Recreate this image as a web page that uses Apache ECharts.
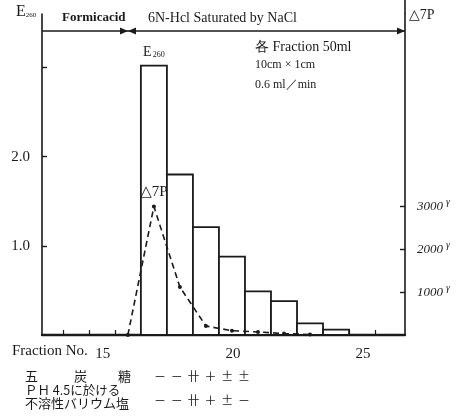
<!DOCTYPE html>
<html>
<head>
<meta charset="utf-8">
<script src="https://cdn.jsdelivr.net/npm/echarts@6/dist/echarts.min.js"></script>
<style>
  html, body { margin: 0; padding: 0; background: #fff; }
  #main { width: 460px; height: 417px; }
</style>
</head>
<body>
<div id="main"></div>
<script>
// E260 per fraction (bars span fraction n .. n+1)
const fracStart = [16, 17, 18, 19, 20, 21, 22, 23];
const e260 = [3.02, 1.80, 1.21, 0.88, 0.49, 0.38, 0.13, 0.06];
// Δ7P (γ), plotted at the middle of each fraction
const dpX = [15.5, 16.5, 17.5, 18.5, 19.5, 20.5, 21.5, 22.5];
const dp = [0, 3000, 1120, 210, 100, 70, 35, 10];
const xLabels = [15, 20, 25];
const leftTicks = [1, 2, 3];
const leftLabels = [1, 2];
const rightTicks = [1000, 2000, 3000];
// reactions below the chart
const pentose = ['－', '－', '卄', '＋', '±', '±'];
const barium = ['－', '－', '卄', '＋', '±', '－'];

const serif = '"Liberation Serif", "DejaVu Serif", serif';
const jp = '"Noto Sans CJK JP", sans-serif';
const ink = '#1a1a1a';

let chart = echarts.init(document.getElementById('main'));

function renderBar(params, api) {
    const x0 = api.value(0), v = api.value(1);
    const p0 = api.coord([x0, v]);
    const p1 = api.coord([x0 + 1, 0]);
    const rect = {
        type: 'rect',
        shape: {x: p0[0], y: p0[1], width: p1[0] - p0[0], height: p1[1] - p0[1]},
        style: {fill: '#fff', stroke: ink, lineWidth: 1.8}
    };
    if (params.dataIndex !== 0) return rect;
    // label above the tallest bar
    return {
        type: 'group',
        children: [rect, {
            type: 'text',
            x: (p0[0] + p1[0]) / 2,
            y: p0[1] - 6,
            style: {
                text: 'E{s|260}',
                align: 'center',
                verticalAlign: 'bottom',
                font: '14px ' + serif,
                fill: ink,
                rich: {s: {fontSize: 8, fontFamily: serif, padding: [4, 0, 0, 1], fill: ink}}
            }
        }]
    };
}

// arrow head pointing along dir (+1 right, -1 left)
function head(x, y, dir) {
    return {
        type: 'polygon',
        shape: {points: [[x, y], [x - dir * 8, y - 3.5], [x - dir * 8, y + 3.5]]},
        style: {fill: ink}
    };
}

function marks(list, top) {
    return list.map((m, i) => ({
        type: 'text', left: 154 + i * 16.8, top: top,
        style: {text: m, font: '12px ' + jp, fill: ink}
    }));
}

let option = {
    backgroundColor: '#fff',
    animation: false,
    grid: {left: 42, right: 55, top: 14, bottom: 82, show: false},
    xAxis: {
        type: 'value',
        min: 12.2,
        max: 26.15,
        splitLine: {show: false},
        axisLine: {lineStyle: {color: ink, width: 2.4}},
        axisTick: {inside: true, length: 5, customValues: [13, 14, 15, 16, 17, 18, 19, 20, 21, 22, 23, 24, 25],
            lineStyle: {color: ink, width: 1.2}},
        axisLabel: {
            customValues: xLabels,
            color: ink,
            fontFamily: serif,
            fontSize: 15,
            margin: 12,
            padding: [0, 24, 0, 0]
        }
    },
    yAxis: [{
        type: 'value',
        min: 0,
        max: 3.6,
        splitLine: {show: false},
        axisLine: {show: true, lineStyle: {color: ink, width: 1.6}},
        axisTick: {show: true, inside: true, length: 5, customValues: leftTicks, lineStyle: {color: ink, width: 1.4}},
        axisLabel: {
            customValues: leftLabels,
            formatter: (v) => v.toFixed(1),
            color: ink,
            fontFamily: serif,
            fontSize: 15,
            margin: 12
        }
    }, {
        type: 'value',
        min: 0,
        max: 7500,
        position: 'right',
        splitLine: {show: false},
        axisLine: {show: true, lineStyle: {color: ink, width: 1.6}},
        axisTick: {show: true, inside: true, length: 5, customValues: rightTicks, lineStyle: {color: ink, width: 1.4}},
        axisLabel: {
            customValues: rightTicks,
            formatter: (v) => v + '{g|γ}',
            color: ink,
            fontFamily: serif,
            fontSize: 13,
            fontStyle: 'italic',
            margin: 12,
            rich: {g: {fontSize: 10, fontFamily: serif, verticalAlign: 'top', padding: [0, 0, 8, 3], color: ink}}
        }
    }],
    series: [{
        name: 'E260',
        type: 'custom',
        renderItem: renderBar,
        data: fracStart.map((f, i) => [f, e260[i]]),
        z: 2
    }, {
        name: 'Δ7P',
        type: 'line',
        yAxisIndex: 1,
        data: dpX.map((x, i) => {
            const item = {value: [x, dp[i]]};
            if (i === 1) {
                item.label = {
                    show: true, position: 'top', distance: 5, formatter: '△7P',
                    color: ink, fontFamily: serif, fontSize: 15
                };
            }
            return item;
        }),
        symbol: 'circle',
        symbolSize: 4,
        itemStyle: {color: ink},
        lineStyle: {color: ink, width: 1.6, type: [6, 4]},
        z: 3
    }],
    graphic: [
        // axis titles
        {type: 'text', left: 16, top: 4, style: {
            text: 'E{s|260}', font: '16px ' + serif, fill: ink,
            rich: {s: {fontSize: 7, fontFamily: serif, padding: [6, 0, 0, 0], fill: ink}}}},
        {type: 'text', left: 409, top: 8, style: {text: '△7P', font: '14px ' + serif, fill: ink}},
        {type: 'line', shape: {x1: 405, y1: 0, x2: 405, y2: 14}, style: {stroke: ink, lineWidth: 1.6}},
        // eluent ranges
        {type: 'text', left: 62, top: 11, style: {text: 'Formicacid', font: 'bold 13px ' + serif, fill: ink}},
        {type: 'text', left: 148, top: 11, style: {text: '6N-Hcl Saturated by NaCl', font: '14px ' + serif, fill: ink}},
        {type: 'line', shape: {x1: 42, y1: 31, x2: 128, y2: 31}, style: {stroke: ink, lineWidth: 1.4}},
        {type: 'line', shape: {x1: 128, y1: 31, x2: 405, y2: 31}, style: {stroke: ink, lineWidth: 1.4}},
        head(128, 31, 1),
        head(128, 31, -1),
        head(405, 31, 1),
        // column notes
        {type: 'text', left: 255, top: 40, style: {text: '各 Fraction 50ml', font: '14px ' + serif, fill: ink}},
        {type: 'text', left: 255, top: 59, style: {text: '10cm × 1cm', font: '12px ' + serif, fill: ink}},
        {type: 'text', left: 255, top: 79, style: {text: '0.6 ml／min', font: '12px ' + serif, fill: ink}},
        // x axis title
        {type: 'text', left: 12, top: 344, style: {text: 'Fraction No.', font: '15px ' + serif, fill: ink}},
        // table below
        {type: 'text', left: 25, top: 370, style: {text: '五', font: '13px ' + jp, fill: ink}},
        {type: 'text', left: 74, top: 370, style: {text: '炭', font: '13px ' + jp, fill: ink}},
        {type: 'text', left: 118, top: 370, style: {text: '糖', font: '13px ' + jp, fill: ink}},
        ...marks(pentose, 370),
        {type: 'text', left: 25, top: 384, style: {text: 'ＰＨ 4.5に於ける', font: '12.5px ' + jp, fill: ink}},
        {type: 'text', left: 25, top: 397, style: {text: '不溶性バリウム塩', font: '13px ' + jp, fill: ink}},
        ...marks(barium, 394)
    ]
};
chart.setOption(option);
</script>
</body>
</html>
